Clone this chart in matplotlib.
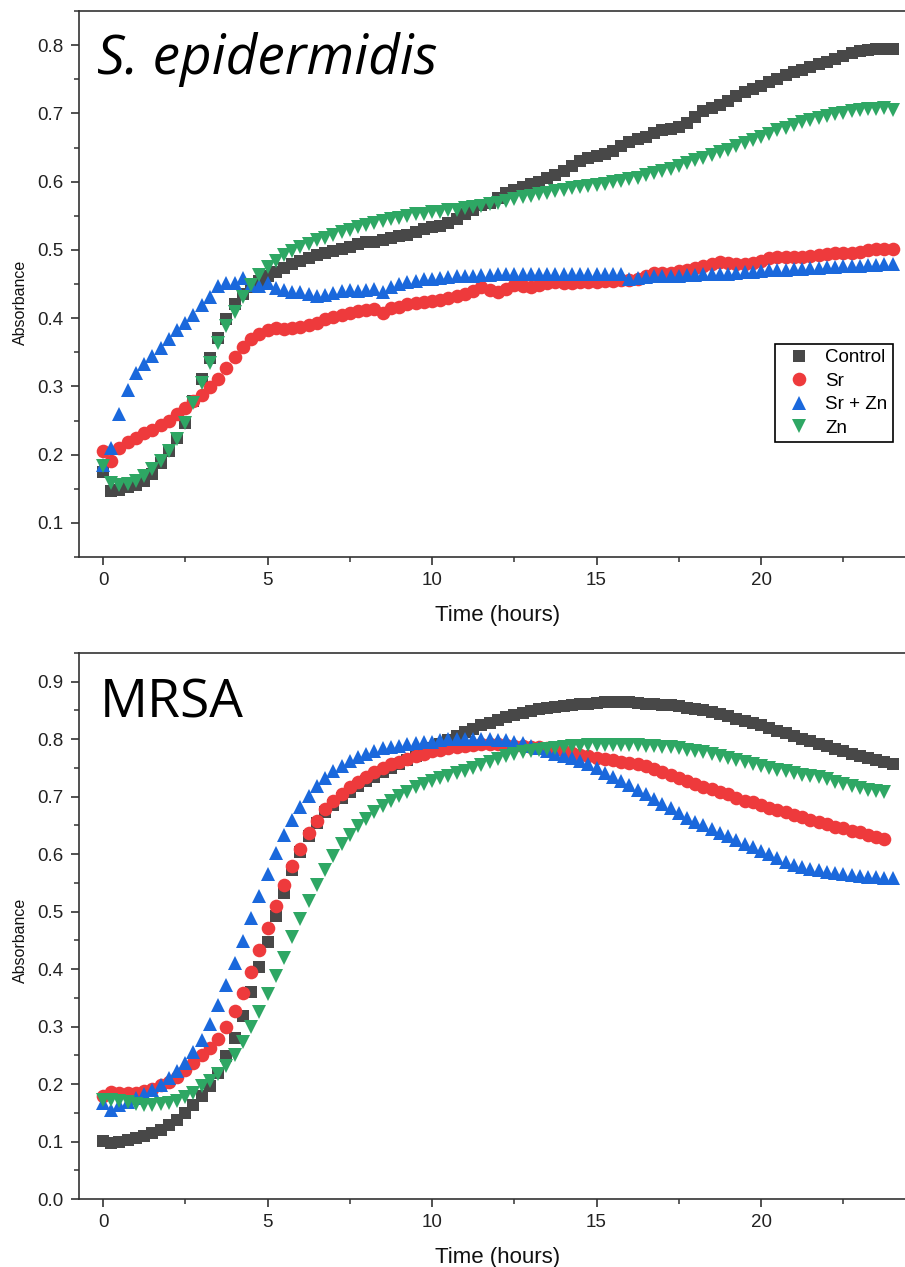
import numpy as np
import matplotlib
matplotlib.use("Agg")
import matplotlib.pyplot as plt
from matplotlib.ticker import MultipleLocator

plt.rcParams['font.family'] = ['Liberation Sans', 'DejaVu Sans']

# ---------------- data ----------------
t_full = [i * 0.25 for i in range(97)]        # 0 .. 24 h
t_short = [i * 0.25 for i in range(96)]       # 0 .. 23.75 h

labels = ["Control", "Sr", "Sr + Zn", "Zn"]

# S. epidermidis
sepi_control = [0.175, 0.146, 0.148, 0.152, 0.156, 0.162, 0.172, 0.187, 0.206, 0.224,
                0.247, 0.279, 0.311, 0.342, 0.371, 0.399, 0.421, 0.435, 0.446, 0.454,
                0.461, 0.467, 0.473, 0.479, 0.484, 0.488, 0.492, 0.496, 0.499, 0.501,
                0.504, 0.508, 0.511, 0.512, 0.515, 0.518, 0.521, 0.522, 0.526, 0.530,
                0.533, 0.535, 0.539, 0.545, 0.553, 0.558, 0.566, 0.569, 0.576, 0.583,
                0.588, 0.592, 0.596, 0.600, 0.605, 0.610, 0.615, 0.623, 0.630, 0.634,
                0.637, 0.641, 0.645, 0.652, 0.658, 0.662, 0.665, 0.671, 0.675, 0.677,
                0.680, 0.686, 0.695, 0.703, 0.708, 0.713, 0.718, 0.725, 0.731, 0.735,
                0.740, 0.746, 0.751, 0.756, 0.760, 0.764, 0.768, 0.772, 0.776, 0.780,
                0.784, 0.788, 0.791, 0.793, 0.794, 0.794, 0.795]
sepi_sr = [0.206, 0.190, 0.210, 0.219, 0.225, 0.231, 0.236, 0.243, 0.250, 0.260,
           0.269, 0.278, 0.288, 0.299, 0.311, 0.327, 0.343, 0.358, 0.370, 0.377,
           0.382, 0.385, 0.384, 0.386, 0.387, 0.390, 0.393, 0.398, 0.401, 0.404,
           0.407, 0.410, 0.412, 0.413, 0.408, 0.415, 0.417, 0.420, 0.422, 0.424,
           0.425, 0.427, 0.429, 0.432, 0.435, 0.440, 0.445, 0.441, 0.438, 0.443,
           0.448, 0.447, 0.446, 0.449, 0.451, 0.453, 0.452, 0.452, 0.453, 0.453,
           0.453, 0.454, 0.455, 0.456, 0.456, 0.457, 0.462, 0.466, 0.466, 0.466,
           0.469, 0.471, 0.473, 0.476, 0.479, 0.482, 0.481, 0.480, 0.480, 0.481,
           0.484, 0.488, 0.489, 0.490, 0.490, 0.490, 0.491, 0.492, 0.494, 0.495,
           0.495, 0.496, 0.497, 0.500, 0.501, 0.502, 0.502]
sepi_srzn = [0.185, 0.210, 0.260, 0.294, 0.320, 0.333, 0.345, 0.356, 0.370, 0.383,
             0.393, 0.405, 0.419, 0.431, 0.447, 0.451, 0.451, 0.459, 0.449, 0.447,
             0.452, 0.444, 0.441, 0.439, 0.438, 0.436, 0.432, 0.434, 0.437, 0.440,
             0.441, 0.440, 0.441, 0.443, 0.439, 0.446, 0.450, 0.453, 0.455, 0.457,
             0.458, 0.459, 0.460, 0.461, 0.462, 0.462, 0.463, 0.463, 0.464, 0.464,
             0.464, 0.465, 0.465, 0.465, 0.465, 0.465, 0.465, 0.465, 0.465, 0.465,
             0.465, 0.465, 0.465, 0.464, 0.458, 0.459, 0.460, 0.461, 0.461, 0.462,
             0.462, 0.463, 0.463, 0.464, 0.464, 0.465, 0.465, 0.466, 0.467, 0.468,
             0.469, 0.470, 0.470, 0.471, 0.472, 0.472, 0.473, 0.474, 0.475, 0.475,
             0.476, 0.477, 0.477, 0.478, 0.478, 0.479, 0.480]
sepi_zn = [0.183, 0.158, 0.155, 0.157, 0.161, 0.168, 0.179, 0.190, 0.205, 0.223,
           0.246, 0.276, 0.305, 0.334, 0.364, 0.388, 0.409, 0.431, 0.449, 0.463,
           0.475, 0.484, 0.492, 0.499, 0.504, 0.509, 0.514, 0.518, 0.522, 0.526,
           0.529, 0.533, 0.537, 0.540, 0.543, 0.545, 0.547, 0.550, 0.552, 0.553,
           0.555, 0.556, 0.558, 0.559, 0.561, 0.563, 0.565, 0.567, 0.569, 0.572,
           0.575, 0.577, 0.579, 0.582, 0.584, 0.586, 0.588, 0.590, 0.592, 0.593,
           0.595, 0.597, 0.599, 0.601, 0.604, 0.606, 0.609, 0.612, 0.616, 0.619,
           0.623, 0.627, 0.631, 0.635, 0.639, 0.643, 0.647, 0.652, 0.657, 0.661,
           0.666, 0.670, 0.675, 0.679, 0.683, 0.687, 0.690, 0.693, 0.696, 0.699,
           0.701, 0.703, 0.705, 0.706, 0.707, 0.708, 0.705]

# MRSA
mrsa_control = [0.101, 0.098, 0.100, 0.103, 0.106, 0.110, 0.115, 0.120, 0.128, 0.138,
                0.150, 0.164, 0.179, 0.197, 0.219, 0.248, 0.280, 0.318, 0.360, 0.403,
                0.448, 0.492, 0.533, 0.572, 0.603, 0.631, 0.655, 0.673, 0.686, 0.698,
                0.709, 0.718, 0.727, 0.735, 0.743, 0.750, 0.757, 0.764, 0.771, 0.778,
                0.785, 0.792, 0.799, 0.806, 0.812, 0.818, 0.824, 0.829, 0.834, 0.838,
                0.842, 0.846, 0.849, 0.852, 0.854, 0.856, 0.858, 0.860, 0.861, 0.862,
                0.863, 0.864, 0.864, 0.864, 0.864, 0.863, 0.862, 0.861, 0.860, 0.859,
                0.857, 0.855, 0.853, 0.850, 0.847, 0.844, 0.840, 0.836, 0.832, 0.828,
                0.824, 0.819, 0.815, 0.810, 0.806, 0.801, 0.797, 0.792, 0.788, 0.783,
                0.779, 0.775, 0.771, 0.767, 0.764, 0.761, 0.757]
mrsa_sr = [0.180, 0.187, 0.185, 0.184, 0.185, 0.188, 0.192, 0.198, 0.204, 0.213,
           0.224, 0.237, 0.251, 0.262, 0.278, 0.300, 0.327, 0.358, 0.395, 0.433,
           0.472, 0.510, 0.547, 0.579, 0.609, 0.636, 0.658, 0.678, 0.693, 0.705,
           0.716, 0.726, 0.735, 0.743, 0.750, 0.756, 0.761, 0.766, 0.771, 0.775,
           0.779, 0.782, 0.785, 0.787, 0.789, 0.790, 0.791, 0.791, 0.791, 0.790,
           0.789, 0.788, 0.787, 0.786, 0.784, 0.782, 0.779, 0.776, 0.773, 0.770,
           0.768, 0.765, 0.763, 0.761, 0.759, 0.756, 0.753, 0.749, 0.743, 0.737,
           0.732, 0.727, 0.722, 0.717, 0.713, 0.709, 0.704, 0.698, 0.693, 0.690,
           0.686, 0.681, 0.677, 0.673, 0.668, 0.664, 0.660, 0.656, 0.652, 0.648,
           0.645, 0.641, 0.638, 0.634, 0.630, 0.627]
mrsa_srzn = [0.167, 0.155, 0.163, 0.168, 0.175, 0.183, 0.190, 0.199, 0.210, 0.222,
             0.237, 0.255, 0.277, 0.304, 0.338, 0.373, 0.411, 0.449, 0.489, 0.527,
             0.566, 0.602, 0.634, 0.660, 0.682, 0.701, 0.718, 0.733, 0.745, 0.754,
             0.762, 0.769, 0.775, 0.780, 0.784, 0.787, 0.789, 0.791, 0.793, 0.795,
             0.796, 0.798, 0.800, 0.801, 0.801, 0.801, 0.801, 0.800, 0.799, 0.798,
             0.796, 0.793, 0.789, 0.784, 0.779, 0.775, 0.771, 0.767, 0.762, 0.756,
             0.750, 0.742, 0.734, 0.727, 0.720, 0.712, 0.704, 0.696, 0.688, 0.680,
             0.671, 0.663, 0.656, 0.650, 0.643, 0.637, 0.631, 0.625, 0.618, 0.612,
             0.606, 0.600, 0.594, 0.587, 0.582, 0.578, 0.575, 0.572, 0.569, 0.567,
             0.565, 0.563, 0.562, 0.561, 0.560, 0.559, 0.558]
mrsa_zn = [0.173, 0.172, 0.170, 0.168, 0.166, 0.164, 0.164, 0.165, 0.167, 0.171,
           0.177, 0.185, 0.196, 0.206, 0.217, 0.232, 0.251, 0.274, 0.299, 0.326,
           0.357, 0.388, 0.420, 0.455, 0.487, 0.518, 0.547, 0.573, 0.596, 0.617,
           0.634, 0.649, 0.662, 0.673, 0.684, 0.693, 0.701, 0.709, 0.716, 0.722,
           0.727, 0.732, 0.736, 0.741, 0.745, 0.750, 0.755, 0.760, 0.765, 0.770,
           0.774, 0.777, 0.779, 0.781, 0.783, 0.785, 0.787, 0.788, 0.789, 0.790,
           0.790, 0.790, 0.790, 0.790, 0.790, 0.790, 0.789, 0.788, 0.787, 0.786,
           0.784, 0.782, 0.780, 0.777, 0.774, 0.771, 0.767, 0.763, 0.760, 0.757,
           0.753, 0.750, 0.747, 0.744, 0.741, 0.738, 0.736, 0.734, 0.730, 0.726,
           0.722, 0.718, 0.715, 0.712, 0.710, 0.708]

panels = [
    ("S. epidermidis", "italic", 39.5, [(t_full, sepi_control), (t_full, sepi_sr),
                                        (t_full, sepi_srzn), (t_full, sepi_zn)],
     (0.05, 0.85), 0.1),
    ("MRSA", "normal", 38.3, [(t_full, mrsa_control), (t_short, mrsa_sr),
                              (t_full, mrsa_srzn), (t_short, mrsa_zn)],
     (0.0, 0.95), 0.0),
]

# ---------------- style ----------------
colors = ["#484848", "#ee3a3c", "#1a68dc", "#2ea764"]
markers = ["s", "o", "^", "v"]
msizes = [8.6, 9.8, 10.2, 10.2]

W, H = 905, 1267
fig = plt.figure(figsize=(W / 100, H / 100), dpi=100)

# the plot frame runs slightly past the right edge of the picture
right_px = 917
ax_rects = [
    [79 / W, 1 - 557 / H, (right_px - 79) / W, 546 / H],
    [79 / W, 1 - 1199 / H, (right_px - 79) / W, 546 / H],
]
title_pos = [(97, 74), (100, 718)]
ylabel_y = [0.467, 0.474]

axes = []
for k, (title, style, tsize, series, ylim, ymin_tick) in enumerate(panels):
    ax = fig.add_axes(ax_rects[k])
    axes.append(ax)
    for (tt, vals), c, m, ms, lab in zip(series, colors, markers, msizes, labels):
        ax.plot(tt, vals, linestyle="none", marker=m, markersize=ms,
                color=c, markeredgewidth=0, label=lab)
    ax.set_xlim(-0.73, 24.74)
    ax.set_ylim(*ylim)
    ax.xaxis.set_major_locator(MultipleLocator(5))
    ax.xaxis.set_minor_locator(MultipleLocator(2.5))
    ax.set_yticks(np.round(np.arange(ymin_tick, ylim[1] - 0.01, 0.1), 2))
    ax.yaxis.set_minor_locator(MultipleLocator(0.05))
    ax.yaxis.set_major_formatter(matplotlib.ticker.FormatStrFormatter("%.1f"))
    ax.spines["right"].set_visible(False)
    for s in ["left", "bottom", "top"]:
        ax.spines[s].set_linewidth(1.2)
        ax.spines[s].set_color("#333333")
    ax.tick_params(which="major", direction="out", length=6, width=1.2,
                   color="#333333", labelsize=13.5, labelcolor="#222222", pad=5)
    ax.tick_params(which="minor", direction="out", length=3.5, width=1.1,
                   color="#333333")
    ax.tick_params(top=False, right=False, which="both")
    ax.set_xlabel("Time (hours)", fontsize=16, color="#111111", labelpad=11)
    ax.set_ylabel("Absorbance", fontsize=11.5, color="#111111")
    ax.yaxis.set_label_coords((28 - 79) / (right_px - 79), ylabel_y[k])
    tx, ty = title_pos[k]
    fig.text(tx / W, 1 - ty / H, title, fontsize=tsize, style=style,
             family=["Open Sans", "DejaVu Sans"], ha="left", va="baseline",
             color="black")

leg = axes[0].legend(loc="upper left", bbox_to_anchor=(775 / W, 1 - 344 / H),
                     bbox_transform=fig.transFigure, borderaxespad=0,
                     fontsize=13.5, frameon=True, fancybox=False,
                     edgecolor="black", framealpha=1, handlelength=1.96,
                     handletextpad=0.45, labelspacing=0.34, borderpad=0.28,
                     markerscale=1.0)
leg.get_frame().set_linewidth(1.2)

fig.savefig("out.png", dpi=100)
